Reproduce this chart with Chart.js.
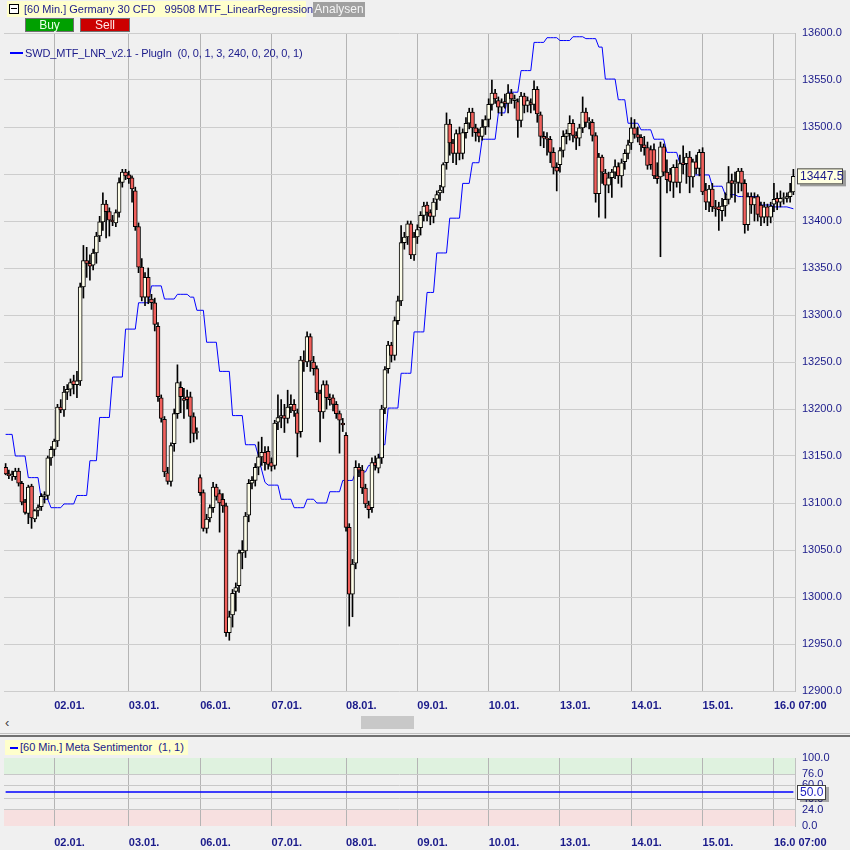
<!DOCTYPE html>
<html><head><meta charset="utf-8">
<script src="https://cdn.jsdelivr.net/npm/chart.js@4/dist/chart.umd.min.js"></script>
<style>
body{margin:0;background:#f0f0f0;width:850px;height:850px;overflow:hidden;font-family:"Liberation Sans",Arial,sans-serif;}
#wrap{position:relative;width:850px;height:850px;}
canvas{position:absolute;left:0;}
.abs{position:absolute;white-space:pre;}
</style></head><body><div id="wrap">
<canvas id="main" width="850" height="715" style="top:0;width:850px;height:715px"></canvas>
<canvas id="sub" width="850" height="110" style="top:740px;width:850px;height:110px"></canvas>

<div class="abs" style="left:7px;top:1px;width:299px;height:16px;background:#ffffcc;"></div>
<div class="abs" style="left:9px;top:4px;width:8px;height:8px;border:1px solid #000;background:#fff;"></div>
<div class="abs" style="left:11px;top:8px;width:6px;height:1px;background:#000;"></div>
<div class="abs" style="left:24px;top:2px;font-size:11px;line-height:14px;color:#1a1a8a;">[60 Min.] Germany 30 CFD   99508 MTF_LinearRegression</div>
<div class="abs" style="left:313px;top:2px;width:52px;height:15px;background:#a0a0a0;color:#f4f4f4;font-size:12px;text-align:center;line-height:15px;">Analysen</div>
<div class="abs" style="left:25px;top:18px;width:47px;height:12px;background:#00a000;border:1px solid #707070;color:#e8ffe8;font-size:12px;text-align:center;line-height:12px;">Buy</div>
<div class="abs" style="left:80px;top:18px;width:48px;height:12px;background:#cc0000;border:1px solid #707070;color:#ffe8e8;font-size:12px;text-align:center;line-height:12px;">Sell</div>

<div class="abs" style="left:10px;top:52px;width:13px;height:2px;background:#0000ff;"></div>
<div class="abs" style="left:25px;top:46px;font-size:11px;line-height:14px;letter-spacing:-0.15px;color:#1a1a8a;">SWD_MTF_LNR_v2.1 - PlugIn  (0, 0, 1, 3, 240, 0, 20, 0, 1)</div>

<div class="abs" style="left:5px;top:716px;font-size:13px;color:#404040;line-height:14px;">‹</div>
<div class="abs" style="left:361px;top:716px;width:53px;height:13px;background:#c8c8c8;"></div>
<div class="abs" style="left:0;top:733px;width:850px;height:1px;background:#c0c0c0;"></div>
<div class="abs" style="left:0;top:735px;width:850px;height:2px;background:#707070;"></div>

<div class="abs" style="left:5px;top:740px;width:183px;height:15px;background:#ffffcc;"></div>
<div class="abs" style="left:10px;top:747px;width:8px;height:2px;background:#0000ff;"></div>
<div class="abs" style="left:20px;top:741px;font-size:11px;line-height:13px;color:#1a1a8a;">[60 Min.] Meta Sentimentor  (1, 1)</div>
</div>
<script>
// ---------- data ----------
const days = ['30.12.','02.01.','03.01.','06.01.','07.01.','08.01.','09.01.','10.01.','13.01.','14.01.','15.01.','16.01.'];
const barsPerDay = [15,23,22,22,23,22,22,22,22,22,22,7];
const firstHour = [8,0,1,1,0,1,1,1,1,1,1,1];
const tickLabels = ['02.01.','03.01.','06.01.','07.01.','08.01.','09.01.','10.01.','13.01.','14.01.','15.01.','16.0 07:00'];

const opens = [
13138,13131,13129,13128,13134,13121,13101,13089,13118,13083,
13092,13096,13107,13108,13148,13157,13166,13202,13199,13218,
13221,13230,13226,13230,13330,13358,13355,13353,13366,13384,
13399,13418,13410,13401,13398,13409,13441,13452,13449,13446,
13432,13394,13351,13319,13340,13317,13313,13288,13212,13189,
13132,13123,13163,13195,13223,13211,13213,13213,13192,13175,
13127,13111,13073,13084,13095,13117,13110,13104,13097,12962,
12981,13006,13012,13047,13049,13087,13121,13124,13138,13149,
13154,13155,13143,13140,13186,13191,13193,13190,13202,13205,
13196,13176,13252,13250,13277,13250,13243,13217,13197,13226,
13212,13212,13205,13195,13185,13172,13074,13003,13036,13138,
13135,13116,13098,13095,13143,13137,13148,13201,13243,13268,
13257,13294,13315,13377,13383,13397,13364,13383,13393,13406,
13417,13409,13405,13423,13430,13436,13462,13503,13483,13472,
13493,13472,13494,13504,13516,13499,13494,13490,13500,13508,
13524,13536,13528,13521,13527,13525,13536,13528,13527,13507,
13533,13523,13526,13524,13540,13513,13490,13488,13487,13473,
13457,13460,13475,13490,13493,13504,13491,13488,13499,13516,
13505,13505,13491,13429,13468,13451,13438,13446,13452,13458,
13448,13463,13472,13483,13499,13492,13489,13481,13478,13476,
13476,13448,13447,13479,13452,13450,13441,13457,13441,13462,
13461,13468,13447,13463,13456,13473,13433,13420,13434,13415,
13415,13411,13416,13423,13443,13440,13441,13453,13440,13396,
13426,13417,13426,13417,13404,13415,13404,13418,13424,13420,
13424,13424,13426,13431];
const highs = [
13142,13135,13134,13137,13137,13123,13104,13119,13120,13093,
13098,13110,13112,13150,13160,13168,13205,13210,13224,13226,
13232,13236,13240,13334,13374,13372,13364,13370,13388,13405,
13430,13422,13414,13406,13412,13446,13455,13455,13453,13448,
13436,13398,13360,13345,13350,13322,13318,13292,13215,13192,
13138,13164,13200,13247,13229,13222,13220,13218,13196,13180,
13130,13114,13088,13098,13122,13120,13114,13110,13100,12985,
13008,13015,13050,13060,13090,13125,13128,13142,13165,13170,
13160,13160,13148,13188,13215,13210,13205,13220,13215,13210,
13200,13256,13262,13282,13280,13256,13246,13220,13230,13230,
13216,13215,13208,13198,13190,13175,13078,13040,13145,13142,
13140,13120,13102,13148,13150,13152,13204,13245,13272,13271,
13298,13320,13395,13388,13400,13400,13388,13396,13410,13420,
13420,13412,13424,13432,13438,13462,13515,13508,13487,13497,
13500,13498,13510,13520,13520,13503,13498,13508,13512,13530,
13550,13540,13532,13530,13535,13545,13540,13534,13530,13537,
13536,13532,13530,13549,13543,13516,13495,13494,13490,13478,
13462,13478,13496,13497,13512,13508,13495,13503,13532,13520,
13510,13508,13494,13472,13470,13455,13452,13455,13465,13462,
13466,13476,13486,13510,13508,13500,13492,13490,13484,13480,
13482,13462,13484,13482,13465,13456,13460,13465,13470,13480,
13472,13474,13466,13470,13476,13478,13440,13438,13440,13422,
13420,13424,13430,13458,13450,13452,13456,13456,13444,13430,
13430,13430,13428,13420,13420,13418,13420,13440,13430,13432,
13430,13430,13440,13455];
const lows = [
13130,13126,13124,13125,13118,13098,13088,13078,13073,13080,
13086,13092,13100,13104,13140,13150,13160,13196,13192,13210,
13214,13216,13212,13225,13318,13340,13337,13348,13355,13378,
13390,13382,13384,13395,13394,13404,13436,13444,13440,13420,
13390,13345,13315,13310,13312,13306,13283,13208,13186,13128,
13120,13118,13155,13190,13196,13190,13200,13164,13165,13168,
13108,13070,13068,13080,13090,13103,13069,13090,12958,12954,
12968,12985,13005,13030,13042,13080,13115,13118,13130,13140,
13135,13136,13134,13136,13178,13180,13175,13185,13196,13192,
13149,13170,13240,13245,13240,13236,13210,13165,13190,13200,
13204,13198,13190,13153,13176,13070,12969,12979,13030,13128,
13110,13095,13084,13090,13135,13132,13142,13195,13238,13250,
13252,13290,13310,13370,13375,13360,13358,13376,13385,13400,
13400,13396,13398,13412,13422,13430,13455,13470,13462,13460,
13465,13466,13488,13498,13490,13485,13484,13486,13492,13500,
13518,13525,13515,13512,13520,13515,13525,13520,13489,13500,
13515,13516,13515,13518,13505,13480,13478,13470,13462,13450,
13432,13452,13468,13482,13486,13484,13476,13480,13494,13500,
13498,13485,13420,13404,13440,13403,13430,13425,13445,13440,
13436,13455,13466,13476,13488,13484,13474,13470,13455,13455,
13445,13440,13362,13448,13430,13432,13425,13436,13430,13450,
13440,13430,13436,13450,13448,13428,13412,13410,13410,13405,
13390,13400,13405,13418,13425,13420,13430,13432,13387,13390,
13408,13400,13400,13395,13398,13395,13398,13410,13412,13415,
13418,13420,13420,13428];
const closes = [
13131,13129,13130,13134,13121,13101,13090,13117,13084,13092,
13095,13107,13109,13148,13157,13166,13202,13199,13218,13221,
13228,13226,13230,13330,13358,13355,13352,13366,13384,13399,
13418,13410,13401,13399,13409,13441,13452,13448,13445,13434,
13394,13351,13319,13340,13319,13313,13290,13213,13190,13133,
13123,13161,13195,13228,13213,13209,13210,13192,13174,13176,
13111,13073,13083,13095,13117,13107,13100,13097,12962,12979,
13004,13010,13047,13050,13086,13121,13124,13138,13149,13154,
13143,13141,13139,13185,13191,13193,13190,13202,13205,13198,
13174,13252,13250,13277,13251,13243,13217,13197,13226,13212,
13210,13205,13195,13188,13183,13074,13003,13035,13138,13135,
13116,13099,13093,13143,13140,13148,13200,13242,13268,13257,
13294,13315,13377,13383,13397,13364,13383,13391,13406,13416,
13409,13405,13420,13428,13433,13460,13503,13483,13472,13493,
13472,13494,13504,13516,13499,13494,13490,13500,13508,13524,
13536,13530,13521,13526,13525,13536,13530,13530,13507,13533,
13523,13528,13524,13540,13514,13490,13488,13487,13473,13457,
13453,13475,13490,13493,13504,13491,13488,13499,13516,13505,
13506,13491,13429,13468,13452,13438,13446,13452,13458,13448,
13462,13472,13481,13499,13492,13489,13481,13478,13459,13460,
13448,13445,13479,13452,13444,13442,13457,13441,13461,13460,
13468,13447,13463,13456,13473,13431,13420,13434,13415,13413,
13412,13416,13423,13441,13440,13441,13453,13440,13396,13426,
13417,13425,13407,13404,13415,13404,13416,13423,13420,13424,
13425,13426,13431,13447.5];
const mtfLine = [
13173,13173,13173,13150,13150,13150,13150,13127,13127,13127,
13127,13104,13104,13104,13095,13095,13095,13095,13099,13099,
13099,13099,13108,13108,13108,13108,13145,13145,13145,13191,
13191,13191,13191,13234,13234,13234,13234,13285,13285,13285,
13285,13313,13313,13313,13313,13331,13331,13331,13331,13317,
13317,13317,13317,13322,13322,13322,13322,13319,13319,13305,
13305,13305,13271,13271,13271,13271,13240,13240,13240,13240,
13193,13193,13193,13193,13162,13162,13162,13162,13150,13135,
13122,13119,13119,13119,13119,13104,13104,13104,13104,13095,
13095,13095,13095,13104,13104,13104,13100,13100,13100,13100,
13112,13112,13112,13112,13124,13124,13124,13124,13133,13133,
13133,13133,13140,13140,13140,13140,13162,13162,13201,13201,
13201,13201,13238,13238,13238,13238,13282,13282,13282,13282,
13324,13324,13324,13366,13366,13366,13366,13403,13403,13403,
13403,13440,13440,13440,13462,13462,13462,13487,13487,13487,
13487,13487,13515,13515,13515,13537,13537,13537,13537,13560,
13560,13560,13560,13590,13590,13590,13590,13595,13595,13595,
13595,13592,13592,13592,13592,13596,13596,13596,13596,13594,
13594,13594,13594,13585,13585,13551,13551,13551,13551,13529,
13529,13529,13504,13504,13504,13504,13497,13497,13497,13497,
13487,13487,13487,13487,13473,13473,13473,13473,13461,13461,
13461,13461,13449,13449,13449,13449,13449,13449,13437,13437,
13437,13437,13428,13428,13428,13428,13426,13426,13426,13426,
13426,13426,13426,13417,13417,13417,13417,13415,13415,13415,
13415,13415,13414,13413];
const sentimentValue = 50;
const sentimentTicks = [0, 24, 40, 60, 76, 100];
const upperZone = [76, 100];
const lowerZone = [0, 24];
const lastPrice = 13447.5;

// ---------- derived tables ----------
const categories = [];
const dayStart = [];
days.forEach((d, k) => {
  for (let h = 0; h < barsPerDay[k]; h++) {
    if (h === 0 && k > 0) dayStart.push(categories.length);
    categories.push(d + ' ' + String(firstHour[k] + h).padStart(2, '0') + ':00');
  }
});
const N = categories.length;
[opens, highs, lows, closes, mtfLine].forEach((a, k) => { if (a.length !== N) throw new Error('len ' + k + ' ' + a.length + ' vs ' + N); });
const labelAt = {};
dayStart.forEach((idx, k) => labelAt[idx] = tickLabels[k]);

const bodies = opens.map((o, i) => [o, closes[i]]);
const wicks = lows.map((l, i) => [l, highs[i]]);
const bodyColors = opens.map((o, i) => closes[i] >= o ? '#fdfde8' : '#f0605c');

const TXT = '#1a1a8a';
const FONT = "'Liberation Sans', Arial, sans-serif";
Chart.defaults.font.family = FONT;

const xAxis = (lh) => ({
  type: 'category',
  offset: true,
  grid: {
    offset: false, drawTicks: false, lineWidth: 1,
    color: (c) => (c.index in labelAt) ? '#b4b4b4' : 'rgba(0,0,0,0)'
  },
  border: { display: false },
  ticks: {
    autoSkip: false, maxRotation: 0, minRotation: 0, align: 'start', padding: 5,
    color: TXT, font: { size: 11, weight: 'bold', lineHeight: lh },
    callback: (v, i) => labelAt[i] !== undefined ? labelAt[i] : ''
  },
  afterFit: (s) => { s.height = 24; }
});

const priceBox = {
  id: 'priceBox',
  afterDraw(chart) {
    const y = chart.scales.y.getPixelForValue(lastPrice);
    const ctx = chart.ctx;
    ctx.save();
    ctx.fillStyle = 'rgba(0,0,0,0.35)';
    ctx.fillRect(800, y - 6, 46, 16);
    ctx.fillStyle = '#ffffe1';
    ctx.fillRect(797, y - 8, 46, 16);
    ctx.strokeStyle = '#404040';
    ctx.lineWidth = 1;
    ctx.strokeRect(797.5, y - 7.5, 45, 15);
    ctx.fillStyle = TXT;
    ctx.font = "12px " + FONT;
    ctx.textBaseline = 'middle';
    ctx.fillText(lastPrice.toFixed(1), 800, y + 0.5);
    ctx.restore();
  }
};

new Chart(document.getElementById('main'), {
  type: 'bar',
  data: {
    labels: categories,
    datasets: [
      { type: 'line', data: mtfLine, borderColor: '#0000ff', borderWidth: 1, pointRadius: 0, pointHoverRadius: 0, tension: 0, order: 3 },
      { type: 'bar', data: wicks, backgroundColor: '#000000', barThickness: 1, grouped: false, order: 2 },
      { type: 'bar', data: bodies, backgroundColor: bodyColors, borderColor: '#000000', borderWidth: 1, borderSkipped: false, barThickness: 4, grouped: false, order: 1 }
    ]
  },
  options: {
    responsive: false, animation: false, devicePixelRatio: 1,
    layout: { autoPadding: false, padding: { left: 4, top: 33, right: 0, bottom: 0 } },
    plugins: { legend: { display: false }, tooltip: { enabled: false } },
    scales: {
      x: xAxis(1.8),
      y: {
        position: 'right', min: 12900, max: 13600,
        grid: { color: '#cdcdcd', drawTicks: false },
        border: { color: '#c0c0c0' },
        ticks: { stepSize: 50, padding: 7, color: TXT, font: { size: 11 }, callback: (v) => Number(v).toFixed(1) },
        afterFit: (s) => { s.width = 55; }
      }
    }
  },
  plugins: [priceBox]
});

const zones = {
  id: 'zones',
  beforeDraw(chart) {
    const { ctx, chartArea: a, scales: { y } } = chart;
    ctx.save();
    ctx.fillStyle = '#dff2df';
    ctx.fillRect(a.left, y.getPixelForValue(upperZone[1]), a.right - a.left, y.getPixelForValue(upperZone[0]) - y.getPixelForValue(upperZone[1]));
    ctx.fillStyle = '#f7e0e0';
    ctx.fillRect(a.left, y.getPixelForValue(lowerZone[1]), a.right - a.left, y.getPixelForValue(lowerZone[0]) - y.getPixelForValue(lowerZone[1]));
    ctx.restore();
  },
  afterDraw(chart) {
    const ctx = chart.ctx;
    const y = chart.scales.y.getPixelForValue(sentimentValue);
    ctx.save();
    ctx.fillStyle = 'rgba(0,0,0,0.3)';
    ctx.fillRect(800, y - 5, 29, 15);
    ctx.fillStyle = '#ffffff';
    ctx.fillRect(797, y - 7, 29, 15);
    ctx.strokeStyle = '#404040';
    ctx.strokeRect(797.5, y - 6.5, 28, 14);
    ctx.fillStyle = '#2020c0';
    ctx.font = "12px " + FONT;
    ctx.textBaseline = 'middle';
    ctx.fillText(sentimentValue.toFixed(1), 800, y + 0.5);
    ctx.restore();
  }
};

new Chart(document.getElementById('sub'), {
  type: 'line',
  data: {
    labels: categories,
    datasets: [{ data: categories.map(() => sentimentValue), borderColor: '#0000ff', borderWidth: 1.5, pointRadius: 0, pointHoverRadius: 0 }]
  },
  options: {
    responsive: false, animation: false, devicePixelRatio: 1,
    layout: { autoPadding: false, padding: { left: 4, top: 18, right: 0, bottom: 0 } },
    plugins: { legend: { display: false }, tooltip: { enabled: false } },
    scales: {
      x: xAxis(2.15),
      y: {
        position: 'right', min: 0, max: 100,
        afterBuildTicks: (s) => { s.ticks = sentimentTicks.map(v => ({ value: v })); },
        grid: { drawTicks: false, color: (c) => (c.tick && c.tick.value > 0 && c.tick.value < 100) ? '#c8c8c8' : 'rgba(0,0,0,0)' },
        border: { color: '#c0c0c0' },
        ticks: { autoSkip: false, padding: 7, color: TXT, font: { size: 11 }, callback: (v) => Number(v).toFixed(1) },
        afterFit: (s) => { s.width = 55; }
      }
    }
  },
  plugins: [zones]
});
</script>
</body></html>
